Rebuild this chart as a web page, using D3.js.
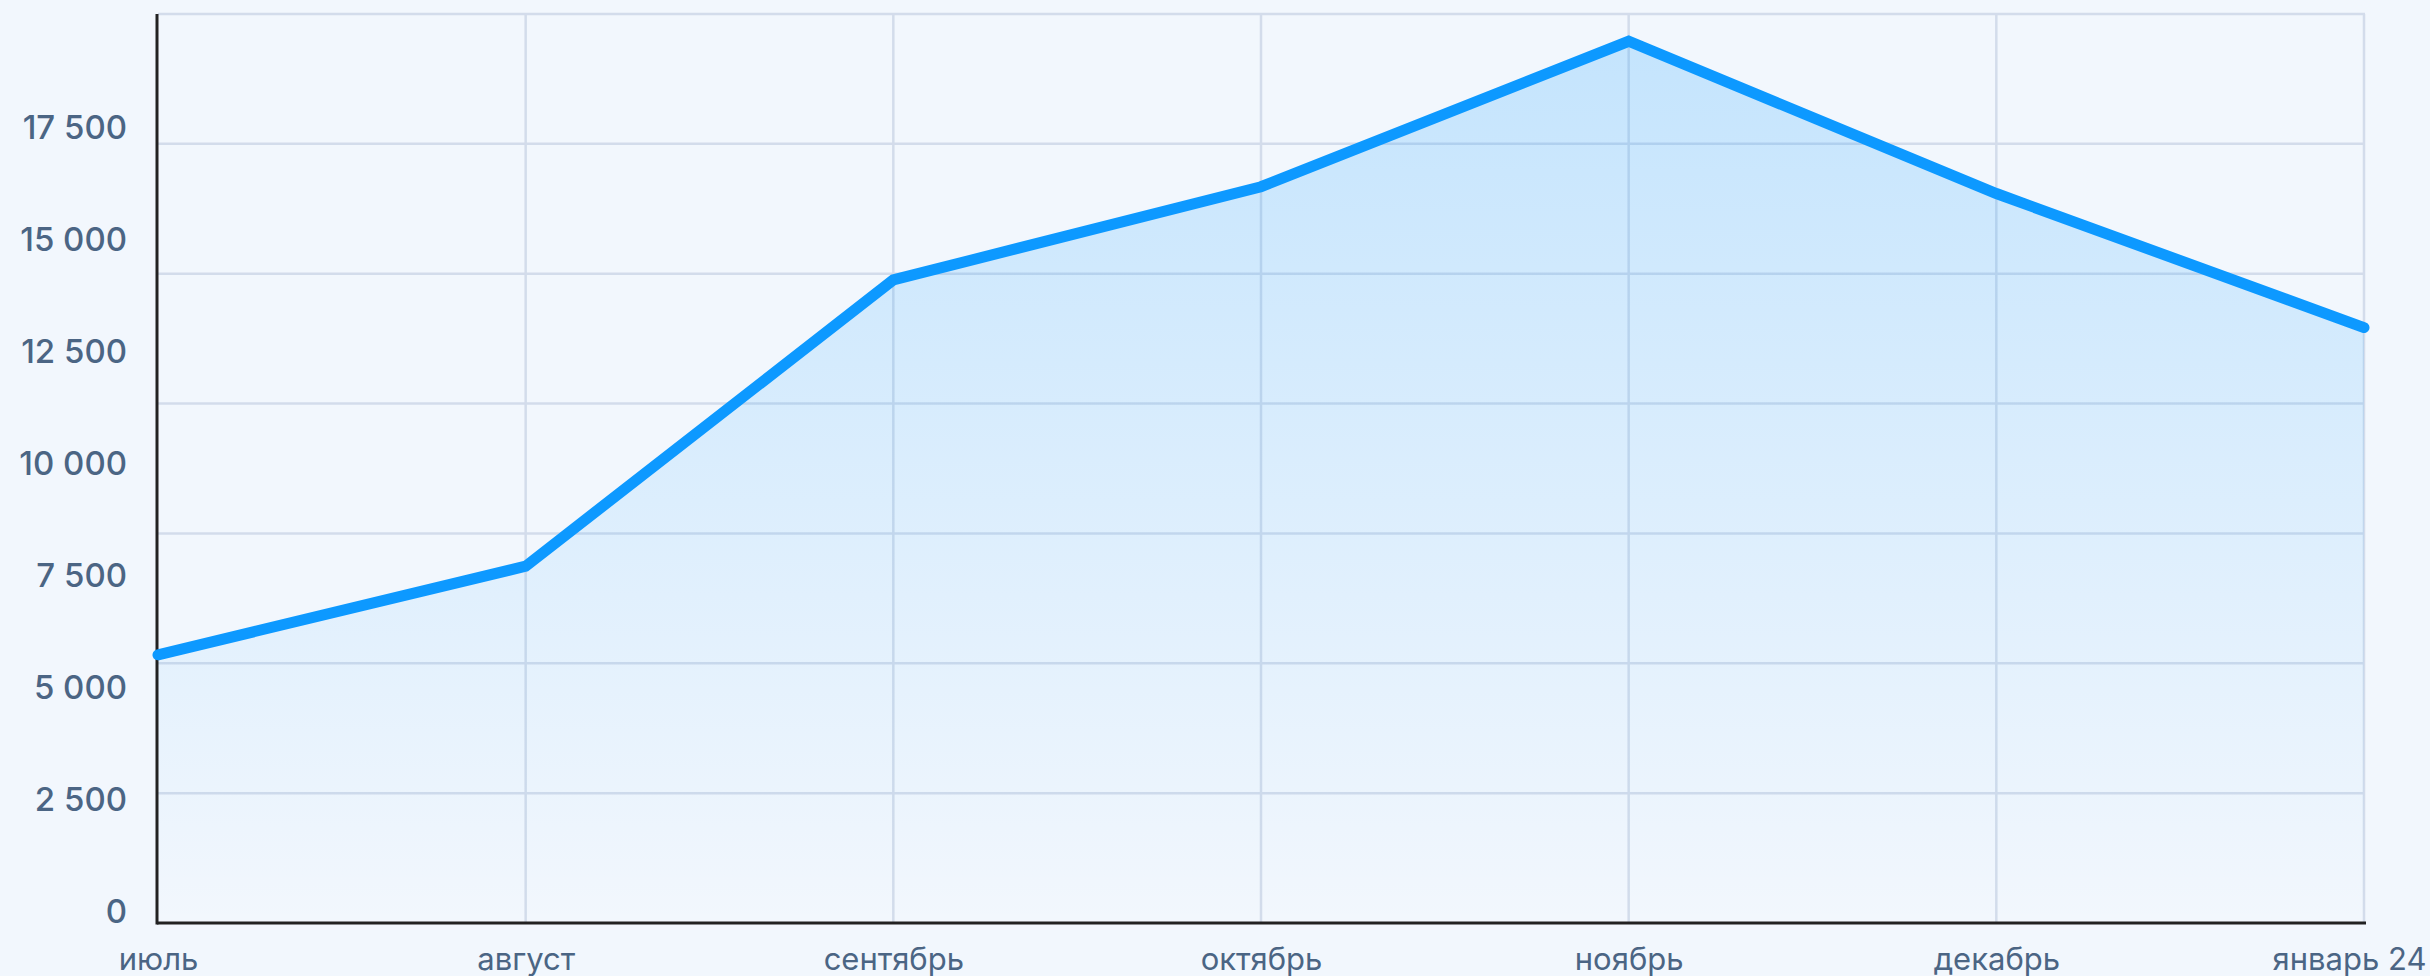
<!DOCTYPE html>
<html lang="ru">
<head>
<meta charset="UTF-8">
<script src="https://d3js.org/d3.v7.min.js"></script>
<style>
  html, body { margin: 0; padding: 0; background: #f2f7fd; }
  svg { display: block; }
  .yAxis text { font-family: Inter, "Noto Sans", sans-serif; font-size: 33px; font-weight: 500; fill: #4b6584; }
  .xAxis text { font-family: Inter, "Noto Sans", sans-serif; font-size: 31px; font-weight: 400; fill: #4b6584; }
  .grid line { stroke: #d3dceb; }
</style>
</head>
<body>
<script>
  // data
  var months = ["июль", "август", "сентябрь", "октябрь", "ноябрь", "декабрь", "январь 24"]
  var values = [5900, 7850, 14150, 16200, 19400, 16050, 13100]
  var yTicks = [0, 2500, 5000, 7500, 10000, 12500, 15000, 17500]
  var yMax = 20000
  var gridRows = 7

  var width = 2430
  var height = 976
  var plot = { left: 158, right: 2364, top: 14, bottom: 923 }

  var svg = d3.select("body").append("svg")
      .attr("width", width)
      .attr("height", height)

  var x = d3.scalePoint()
      .domain(months)
      .range([plot.left, plot.right])

  var y = d3.scaleLinear()
      .domain([0, yMax])
      .range([plot.bottom, plot.top])

  // labels sit on their own slightly tighter scale
  var yLabel = d3.scaleLinear()
      .domain([0, yMax])
      .range([922, 26])

  var rowScale = d3.scaleLinear()
      .domain([0, gridRows])
      .range([plot.bottom, plot.top])

  var defs = svg.append("defs")
  var grad = defs.append("linearGradient")
      .attr("id", "areaFill")
      .attr("gradientUnits", "userSpaceOnUse")
      .attr("x1", 0).attr("x2", 0)
      .attr("y1", y(d3.max(values))).attr("y2", plot.bottom)
  grad.append("stop").attr("offset", "0%").attr("stop-color", "#0d99ff").attr("stop-opacity", 0.2)
  grad.append("stop").attr("offset", "100%").attr("stop-color", "#0d99ff").attr("stop-opacity", 0.0)

  // grid
  var grid = svg.append("g").attr("class", "grid")
  grid.selectAll(".hline")
      .data(d3.range(1, gridRows + 1))
      .enter().append("line")
      .attr("class", "hline")
      .attr("x1", plot.left).attr("x2", plot.right + 1)
      .attr("y1", function (d) { return rowScale(d) })
      .attr("y2", function (d) { return rowScale(d) })
      .attr("stroke-width", 2.5)
  grid.selectAll(".vline")
      .data(months.slice(1))
      .enter().append("line")
      .attr("class", "vline")
      .attr("x1", function (d) { return x(d) })
      .attr("x2", function (d) { return x(d) })
      .attr("y1", plot.top).attr("y2", plot.bottom)
      .attr("stroke-width", 2.5)

  var pts = months.map(function (m, i) { return [m, values[i]] })

  var area = d3.area()
      .x(function (d) { return x(d[0]) })
      .y0(plot.bottom)
      .y1(function (d) { return y(d[1]) })

  svg.append("path")
      .datum(pts)
      .attr("d", area)
      .attr("fill", "url(#areaFill)")

  // axes
  var fmt = d3.formatLocale({ decimal: ",", thousands: " ", grouping: [3], currency: ["", ""] }).format(",d")

  var yAxis = d3.axisLeft(yLabel)
      .tickValues(yTicks)
      .tickFormat(fmt)
      .tickSize(0)
      .tickPadding(30)
  var yAxisG = svg.append("g")
      .attr("class", "yAxis")
      .attr("transform", "translate(157,0)")
      .call(yAxis)
  yAxisG.select(".domain").remove()
  yAxisG.selectAll("text").attr("dy", "0")

  var xAxis = d3.axisBottom(x).tickSize(0)
  var xAxisG = svg.append("g")
      .attr("class", "xAxis")
      .attr("transform", "translate(0," + plot.bottom + ")")
      .call(xAxis)
  xAxisG.select(".domain").remove()
  xAxisG.selectAll("text")
      .attr("y", 47)
      .attr("dy", "0")
  xAxisG.selectAll(".tick").filter(function (d, i) { return i === months.length - 1 })
      .select("text")
      .attr("text-anchor", "end")
      .attr("x", width - 4 - plot.right)

  svg.append("line")
      .attr("x1", 157).attr("x2", 157)
      .attr("y1", plot.top).attr("y2", plot.bottom + 1.5)
      .attr("stroke", "#222").attr("stroke-width", 3)
  svg.append("line")
      .attr("x1", 157).attr("x2", plot.right + 2)
      .attr("y1", plot.bottom).attr("y2", plot.bottom)
      .attr("stroke", "#222").attr("stroke-width", 3)

  var line = d3.line()
      .x(function (d) { return x(d[0]) })
      .y(function (d) { return y(d[1]) })

  svg.append("path")
      .datum(pts)
      .attr("d", line)
      .attr("fill", "none")
      .attr("stroke", "#0d99ff")
      .attr("stroke-width", 11)
      .attr("stroke-linecap", "round")
      .attr("stroke-linejoin", "miter")
</script>
</body>
</html>
